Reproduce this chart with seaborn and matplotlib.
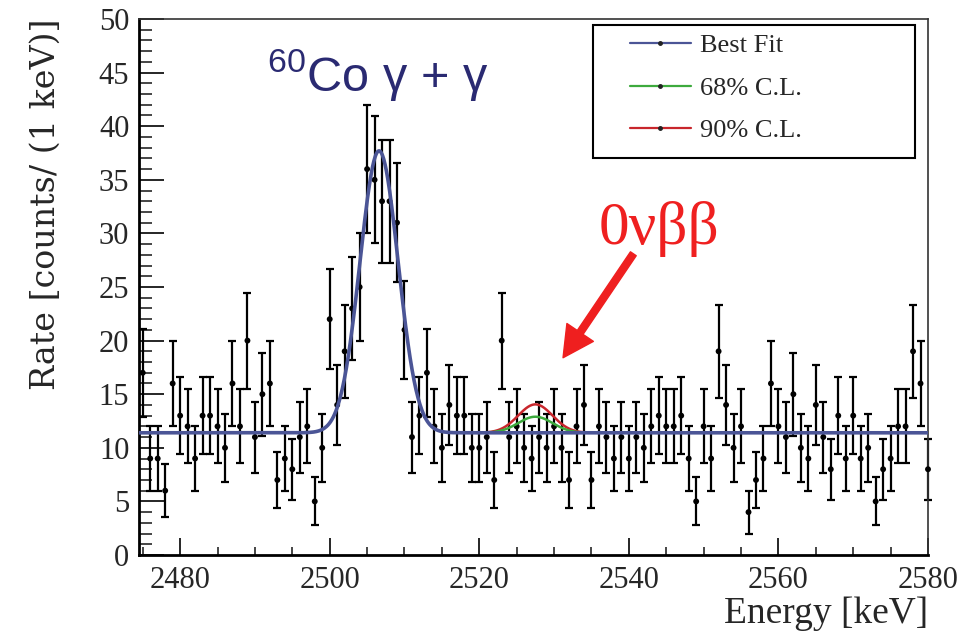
import numpy as np
import pandas as pd
import matplotlib
matplotlib.use("Agg")
import matplotlib.pyplot as plt
import seaborn as sns
from matplotlib.ticker import MultipleLocator
from matplotlib.lines import Line2D
from matplotlib.patches import Rectangle

# ---------------- data ----------------
energies = np.arange(2475, 2581)          # bin centres [keV]
counts = [17, 9, 9, 6, 16, 13, 12, 9, 13, 13, 12, 10, 16, 12, 20, 11, 15, 16, 7, 9, 8, 11, 12, 5, 10,
          22, 14, 19, 23, 25, 36, 35, 33, 33, 31, 21, 11, 13, 17, 12,
          10, 14, 13, 13, 10, 10, 11, 7, 20, 11, 12, 10, 9, 11, 10, 12, 10, 7, 12, 14, 7, 12, 11, 9,
          11, 9, 11, 10, 12, 13, 12, 12, 13, 9, 5, 12, 9, 19, 14, 10, 12, 4, 7, 9, 16, 12,
          11, 15, 10, 9, 14, 11, 8, 13, 9, 13, 9, 10, 5, 8, 9, 12, 12, 19, 16, 8]

# fit model parameters
background = 11.4
co_mu, co_sigma, co_amp = 2506.6, 2.55, 26.3
sig_mu, sig_sigma = 2527.5, 2.3
fit_labels = ["Best Fit", "68% C.L.", "90% C.L."]
fit_signal_amp = [0.0, 1.5, 2.65]
fit_colors = ["#4b5596", "#3daa3d", "#c8262c"]
x_ticks = [2480, 2500, 2520, 2540, 2560, 2580]
y_ticks = [0, 5, 10, 15, 20, 25, 30, 35, 40, 45, 50]

# ---------------- style ----------------
sns.set_theme(style="ticks")
plt.rcParams["font.family"] = ["Liberation Serif", "DejaVu Serif"]
plt.rcParams["mathtext.fontset"] = "custom"
plt.rcParams["mathtext.rm"] = "Liberation Sans"
plt.rcParams["mathtext.it"] = "Liberation Sans:italic"

fig = plt.figure(figsize=(9.8, 6.4), dpi=100)
fig.patch.set_facecolor("white")
ax = fig.add_axes([139 / 980, 1 - 555 / 640, (928 - 139) / 980, (555 - 19) / 640])
ax.set_facecolor("white")

errors = np.sqrt(np.array(counts, dtype=float))
df = pd.DataFrame({"Energy": energies, "Rate": counts, "err": errors})

ax.errorbar(df["Energy"], df["Rate"], yerr=df["err"], fmt="none", ecolor="black",
            elinewidth=1.6, capsize=2.8, capthick=1.6, zorder=2, clip_on=False)
sns.scatterplot(data=df, x="Energy", y="Rate", color="black", s=18, edgecolor="none",
                zorder=3, ax=ax, legend=False, clip_on=False)

# fit curves
grid = np.linspace(2474.5, 2580, 1200)
def model(e, s_amp):
    return (background + co_amp * np.exp(-0.5 * ((e - co_mu) / co_sigma) ** 2)
            + s_amp * np.exp(-0.5 * ((e - sig_mu) / sig_sigma) ** 2))

window = (grid > 2519.5) & (grid < 2535.5)
for lab, amp, col in reversed(list(zip(fit_labels, fit_signal_amp, fit_colors))):
    if amp == 0.0:
        cdf = pd.DataFrame({"E": grid, "R": model(grid, amp)})
        lw = 2.6
    else:
        cdf = pd.DataFrame({"E": grid[window], "R": model(grid[window], amp)})
        lw = 1.8
    sns.lineplot(data=cdf, x="E", y="R", color=col, lw=lw, estimator=None,
                 sort=False, ax=ax, zorder=4 if amp == 0.0 else 3.5)

# axes
ax.set_xlim(2474.5, 2580)
ax.set_ylim(0, 50)
ax.set_xticks(x_ticks)
ax.set_yticks(y_ticks)
ax.xaxis.set_minor_locator(MultipleLocator(5))
ax.yaxis.set_minor_locator(MultipleLocator(1))
ax.tick_params(axis="x", which="major", direction="in", length=12, width=1.4,
               labelsize=22, pad=8, top=False)
ax.tick_params(axis="x", which="minor", direction="in", length=6, width=1.2, top=False)
ax.tick_params(axis="y", which="major", direction="in", length=18, width=1.4,
               labelsize=22, pad=7, right=False)
ax.tick_params(axis="y", which="minor", direction="in", length=9, width=1.2, right=False)
for side in ["left", "bottom"]:
    ax.spines[side].set_linewidth(2.0)
    ax.spines[side].set_color("black")
for side in ["top", "right"]:
    ax.spines[side].set_linewidth(1.2)
    ax.spines[side].set_color("#333333")

ax.set_xlabel("Energy [keV]", fontsize=27, loc="right")
ax.xaxis.set_label_coords(1.0, -0.078)
ax.set_ylabel("Rate [counts/ (1 keV)]", fontsize=24, loc="top", family="DejaVu Serif")
ax.yaxis.set_label_coords(-0.098, 1.0)

# annotations
ax.text(2491.6, 43.3, "$^{60}$Co γ + γ", fontsize=35, color="#2a2a72",
        family="Liberation Sans", ha="left", va="baseline")
ax.text(2535.9, 29.0, "0νββ", fontsize=44, color="#ef2020",
        family="Liberation Serif", ha="left", va="baseline")
ax.annotate("", xy=(2531.2, 18.4), xytext=(2540.6, 28.1),
            arrowprops=dict(facecolor="#ef1f1f", edgecolor="#ef1f1f",
                            width=5, headwidth=23, headlength=22, shrink=0))

# legend
ax.add_patch(Rectangle((0.575, 1 - (158 - 19) / 536), 0.409, (158 - 25) / 536,
                       transform=ax.transAxes, fill=True, facecolor="white",
                       edgecolor="black", lw=1.5, zorder=5))
handles = [Line2D([], [], color=c, lw=1.6, marker="o", markersize=2.5,
                  markerfacecolor="#222222", markeredgecolor="#222222")
           for c in fit_colors]
leg = ax.legend(handles, fit_labels, loc="upper left",
                bbox_to_anchor=((622 - 139) / 789, 1 - (26 - 19) / 536),
                frameon=False, prop={"family": "Liberation Serif", "size": 19},
                handlelength=2.3, handletextpad=0.35, labelspacing=0.72,
                borderpad=0.3, borderaxespad=0, numpoints=1)
leg.set_zorder(6)

fig.savefig("out.png", dpi=100, facecolor="white")
